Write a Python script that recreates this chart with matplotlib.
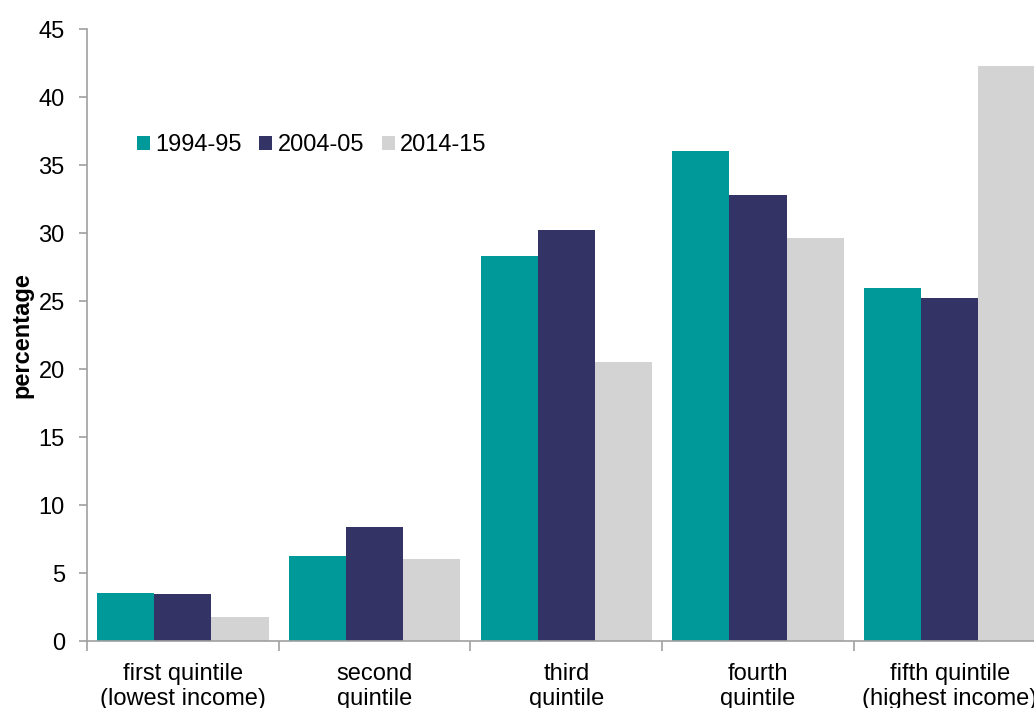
import matplotlib
matplotlib.use("Agg")
import matplotlib.pyplot as plt
import numpy as np

CATEGORIES = ["first quintile\n(lowest income)", "second\nquintile", "third\nquintile",
              "fourth\nquintile", "fifth quintile\n(highest income)"]
SERIES = ["1994-95", "2004-05", "2014-15"]
VALS_1994 = [3.5, 6.25, 28.3, 36.0, 25.95]
VALS_2004 = [3.45, 8.4, 30.25, 32.8, 25.2]
VALS_2014 = [1.75, 6.0, 20.5, 29.6, 42.3]
COLORS = ["#009999", "#333366", "#d3d3d3"]

plt.rcParams["font.family"] = ["Liberation Sans", "DejaVu Sans"]
plt.rcParams["font.size"] = 17

fig = plt.figure(figsize=(10.34, 7.08), dpi=100)
ax = fig.add_axes([87 / 1034, 67 / 708, 958.5 / 1034, 612 / 708])

x = np.arange(len(CATEGORIES))
bw = 0.298
for i, (vals, name, col) in enumerate(zip([VALS_1994, VALS_2004, VALS_2014], SERIES, COLORS)):
    ax.bar(x + (i - 1) * bw, vals, width=bw, color=col, label=name,
           edgecolor="none", zorder=2)

ax.set_xlim(-0.5, len(CATEGORIES) - 0.5)
ax.set_ylim(0, 45)
ax.set_yticks(np.arange(0, 46, 5))
ax.set_xticks(x)
ax.set_xticklabels(CATEGORIES, linespacing=1.18)
ax.set_xticks(np.arange(-0.5, len(CATEGORIES), 1.0), minor=True)
ax.tick_params(axis="x", which="major", length=0, pad=15.5)
ax.tick_params(axis="x", which="minor", length=7, color="#a0a0a0", width=1.2)
ax.tick_params(axis="y", length=6, color="#a0a0a0", width=1.2, pad=10)

for side in ["top", "right"]:
    ax.spines[side].set_visible(False)
for side in ["left", "bottom"]:
    ax.spines[side].set_color("#a0a0a0")
    ax.spines[side].set_linewidth(1.2)

ax.set_ylabel("percentage", fontweight="bold")
ax.yaxis.set_label_coords(-54 / 958.5, 0.5)

ax.legend(loc="center left", bbox_to_anchor=(137 / 1034, 1 - 145 / 708),
          bbox_transform=fig.transFigure, ncol=3, frameon=False,
          borderpad=0, borderaxespad=0, handlelength=0.55, handleheight=0.55,
          handletextpad=0.22, columnspacing=0.75)

fig.savefig("out.png", dpi=100)
